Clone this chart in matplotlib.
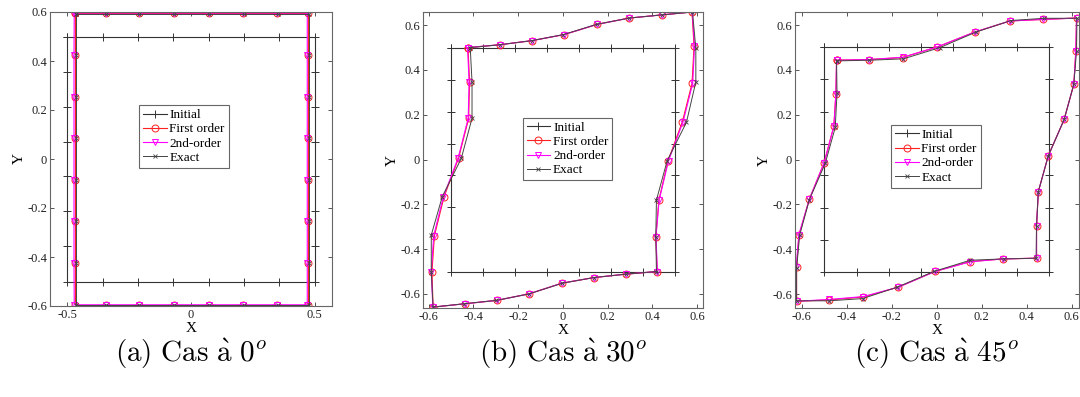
import matplotlib
matplotlib.use("Agg")
import matplotlib.pyplot as plt

plt.rcParams["mathtext.fontset"] = "cm"

# -----------------------------
# Data
# (28 nodes per contour: top L->R, right T->B, bottom R->L, left B->T)
# -----------------------------
init_x = [-0.5, -0.357, -0.214, -0.071, 0.071, 0.214, 0.357, 0.5,
          0.5, 0.5, 0.5, 0.5, 0.5, 0.5, 0.5,
          0.357, 0.214, 0.071, -0.071, -0.214, -0.357, -0.5,
          -0.5, -0.5, -0.5, -0.5, -0.5, -0.5]
init_y = [0.5, 0.5, 0.5, 0.5, 0.5, 0.5, 0.5, 0.5,
          0.357, 0.214, 0.071, -0.071, -0.214, -0.357, -0.5,
          -0.5, -0.5, -0.5, -0.5, -0.5, -0.5, -0.5,
          -0.357, -0.214, -0.071, 0.071, 0.214, 0.357]

# (a) 0 deg
a_first_x = [-0.469, -0.342, -0.209, -0.070, 0.072, 0.212, 0.348, 0.472,
             0.472, 0.472, 0.472, 0.472, 0.472, 0.472, 0.472,
             0.348, 0.212, 0.072, -0.070, -0.209, -0.342, -0.469,
             -0.469, -0.469, -0.469, -0.469, -0.469, -0.469]
a_first_y = [0.595, 0.595, 0.595, 0.595, 0.595, 0.595, 0.595, 0.595,
             0.425, 0.255, 0.087, -0.085, -0.254, -0.423, -0.594,
             -0.594, -0.594, -0.594, -0.594, -0.594, -0.594, -0.594,
             -0.423, -0.254, -0.085, 0.087, 0.255, 0.425]
a_second_x = [-0.472, -0.342, -0.209, -0.070, 0.072, 0.212, 0.348, 0.470,
              0.470, 0.470, 0.470, 0.470, 0.470, 0.470, 0.470,
              0.348, 0.212, 0.072, -0.070, -0.209, -0.342, -0.472,
              -0.473, -0.473, -0.473, -0.473, -0.473, -0.473]
a_second_y = [0.596, 0.596, 0.596, 0.596, 0.596, 0.596, 0.596, 0.596,
              0.425, 0.255, 0.087, -0.085, -0.254, -0.423, -0.595,
              -0.595, -0.595, -0.595, -0.595, -0.595, -0.595, -0.595,
              -0.423, -0.254, -0.085, 0.087, 0.255, 0.425]
a_exact_x = [-0.466, -0.342, -0.209, -0.068, 0.074, 0.214, 0.350, 0.476,
             0.476, 0.476, 0.476, 0.476, 0.476, 0.476, 0.476,
             0.350, 0.214, 0.074, -0.068, -0.209, -0.342, -0.466,
             -0.466, -0.466, -0.466, -0.466, -0.466, -0.466]
a_exact_y = [0.593, 0.593, 0.593, 0.593, 0.593, 0.593, 0.593, 0.593,
             0.423, 0.253, 0.085, -0.085, -0.253, -0.423, -0.596,
             -0.596, -0.596, -0.596, -0.596, -0.596, -0.596, -0.596,
             -0.423, -0.253, -0.085, 0.085, 0.253, 0.423]

# (b) 30 deg
b_first_x = [-0.424, -0.280, -0.139, 0.005, 0.154, 0.297, 0.441, 0.577,
             0.586, 0.577, 0.534, 0.470, 0.429, 0.415, 0.421,
             0.280, 0.139, -0.004, -0.152, -0.296, -0.437, -0.580,
             -0.585, -0.574, -0.531, -0.466, -0.421, -0.417]
b_first_y = [0.500, 0.513, 0.531, 0.558, 0.604, 0.632, 0.646, 0.659,
             0.506, 0.340, 0.169, -0.005, -0.181, -0.344, -0.500,
             -0.512, -0.527, -0.552, -0.600, -0.629, -0.644, -0.659,
             -0.500, -0.340, -0.166, 0.007, 0.184, 0.348]
b_second_x = [-0.426, -0.280, -0.139, 0.005, 0.154, 0.297, 0.441, 0.578,
              0.588, 0.580, 0.537, 0.472, 0.430, 0.416, 0.422,
              0.280, 0.139, -0.004, -0.152, -0.296, -0.437, -0.581,
              -0.588, -0.577, -0.534, -0.468, -0.423, -0.419]
b_second_y = [0.500, 0.513, 0.531, 0.558, 0.604, 0.632, 0.646, 0.659,
              0.506, 0.340, 0.169, -0.005, -0.181, -0.344, -0.500,
              -0.512, -0.527, -0.552, -0.600, -0.629, -0.644, -0.659,
              -0.500, -0.340, -0.166, 0.007, 0.184, 0.348]
b_exact_x = [-0.414, -0.280, -0.139, 0.002, 0.151, 0.297, 0.441, 0.579,
             0.594, 0.594, 0.552, 0.466, 0.418, 0.415, 0.418,
             0.280, 0.139, -0.002, -0.151, -0.297, -0.441, -0.580,
             -0.588, -0.588, -0.539, -0.454, -0.406, -0.406]
b_exact_y = [0.500, 0.513, 0.531, 0.558, 0.604, 0.632, 0.646, 0.659,
             0.496, 0.347, 0.166, -0.005, -0.181, -0.344, -0.500,
             -0.512, -0.527, -0.552, -0.600, -0.629, -0.644, -0.659,
             -0.500, -0.337, -0.166, 0.005, 0.184, 0.347]

# (c) 45 deg
c_first_x = [-0.446, -0.300, -0.152, 0.002, 0.170, 0.326, 0.474, 0.622,
             0.619, 0.610, 0.567, 0.496, 0.452, 0.444, 0.444,
             0.296, 0.148, -0.008, -0.171, -0.327, -0.479, -0.624,
             -0.624, -0.613, -0.567, -0.501, -0.458, -0.449]
c_first_y = [0.443, 0.446, 0.455, 0.502, 0.569, 0.618, 0.625, 0.631,
             0.484, 0.336, 0.179, 0.016, -0.143, -0.295, -0.440,
             -0.443, -0.455, -0.499, -0.569, -0.613, -0.626, -0.632,
             -0.481, -0.336, -0.176, -0.014, 0.149, 0.294]
c_second_x = [-0.446, -0.300, -0.152, 0.002, 0.170, 0.326, 0.474, 0.622,
              0.619, 0.610, 0.567, 0.496, 0.452, 0.444, 0.444,
              0.296, 0.148, -0.008, -0.171, -0.327, -0.479, -0.624,
              -0.626, -0.614, -0.567, -0.501, -0.458, -0.449]
c_second_y = [0.443, 0.446, 0.456, 0.502, 0.569, 0.618, 0.625, 0.631,
              0.484, 0.336, 0.179, 0.016, -0.143, -0.295, -0.440,
              -0.443, -0.456, -0.499, -0.569, -0.611, -0.624, -0.632,
              -0.481, -0.336, -0.176, -0.014, 0.149, 0.294]
c_exact_x = [-0.446, -0.300, -0.149, 0.013, 0.176, 0.330, 0.479, 0.624,
             0.622, 0.610, 0.567, 0.496, 0.452, 0.444, 0.442,
             0.300, 0.149, -0.013, -0.176, -0.330, -0.479, -0.624,
             -0.624, -0.610, -0.567, -0.496, -0.452, -0.444]
c_exact_y = [0.440, 0.443, 0.449, 0.499, 0.569, 0.620, 0.630, 0.630,
             0.484, 0.336, 0.179, 0.016, -0.143, -0.295, -0.440,
             -0.443, -0.449, -0.499, -0.569, -0.620, -0.630, -0.630,
             -0.484, -0.336, -0.179, -0.016, 0.143, 0.295]

series_labels = ["Initial", "First order", "2nd-order", "Exact"]
captions = [r"$\mathrm{(a)\ Cas\ \grave{a}\ 0}^{o}$",
            r"$\mathrm{(b)\ Cas\ \grave{a}\ 30}^{o}$",
            r"$\mathrm{(c)\ Cas\ \grave{a}\ 45}^{o}$"]
a_xticks = [-0.5, 0, 0.5]
bc_xticks = [-0.6, -0.4, -0.2, 0, 0.2, 0.4, 0.6]
yticks = [-0.6, -0.4, -0.2, 0, 0.2, 0.4, 0.6]

panels = [
    dict(first=(a_first_x, a_first_y), second=(a_second_x, a_second_y),
         exact=(a_exact_x, a_exact_y), xlim=(-0.57, 0.57), ylim=(-0.6, 0.6),
         xticks=a_xticks, pos=[50, 12, 332, 306], leg=(0.475, 0.577)),
    dict(first=(b_first_x, b_first_y), second=(b_second_x, b_second_y),
         exact=(b_exact_x, b_exact_y), xlim=(-0.625, 0.626), ylim=(-0.663, 0.659),
         xticks=bc_xticks, pos=[423, 12, 703, 308], leg=(0.516, 0.537)),
    dict(first=(c_first_x, c_first_y), second=(c_second_x, c_second_y),
         exact=(c_exact_x, c_exact_y), xlim=(-0.631, 0.633), ylim=(-0.662, 0.658),
         xticks=bc_xticks, pos=[795, 12, 1079, 308], leg=(0.496, 0.513)),
]


def closed(xs, ys):
    return list(xs) + [xs[0]], list(ys) + [ys[0]]


W, H = 1080, 397
fig = plt.figure(figsize=(W / 100, H / 100), dpi=100)
serif = "Liberation Serif"

for p, cap in zip(panels, captions):
    l, t, r, b = p["pos"]
    ax = fig.add_axes([l / W, 1 - b / H, (r - l) / W, (b - t) / H])

    x, y = closed(init_x, init_y)
    ax.plot(x, y, color="#333333", lw=0.8, marker="+", ms=5.5, mew=0.7,
            label=series_labels[0])
    x, y = closed(*p["first"])
    ax.plot(x, y, color="#ff2020", lw=0.8, marker="o", ms=5, mfc="none",
            mew=0.7, label=series_labels[1])
    x, y = closed(*p["second"])
    ax.plot(x, y, color="#ff00ff", lw=0.8, marker="v", ms=5, mfc="none",
            mew=0.7, label=series_labels[2])
    x, y = closed(*p["exact"])
    ax.plot(x, y, color="#444444", lw=0.7, marker="x", ms=3, mew=0.6,
            label=series_labels[3])

    ax.set_xlim(*p["xlim"])
    ax.set_ylim(*p["ylim"])
    ax.set_xticks(p["xticks"])
    ax.set_yticks(yticks)
    ax.set_xticklabels([f"{v:g}" for v in p["xticks"]], fontfamily=serif)
    ax.set_yticklabels([f"{v:g}" for v in yticks], fontfamily=serif)
    ax.tick_params(direction="in", top=True, right=True, length=3,
                   width=0.7, colors="#555555", labelcolor="#222222",
                   labelsize=9, pad=2)
    for s in ax.spines.values():
        s.set_color("#666666")
        s.set_linewidth(0.8)
    ax.set_xlabel("X", fontfamily=serif, fontsize=11, labelpad=1)
    ax.set_ylabel("Y", fontfamily=serif, fontsize=11, labelpad=1)

    leg = ax.legend(loc="center", bbox_to_anchor=p["leg"], fancybox=False,
                    prop={"family": serif, "size": 9.5}, handlelength=1.8,
                    handletextpad=0.2, labelspacing=0.15, borderpad=0.3,
                    borderaxespad=0, framealpha=1)
    leg.get_frame().set_edgecolor("#666666")
    leg.get_frame().set_linewidth(0.8)

    fig.text((l + r) / 2 / W, 1 - 354 / H, cap, ha="center", va="center",
             fontsize=21)

fig.savefig("out.png", dpi=100)
